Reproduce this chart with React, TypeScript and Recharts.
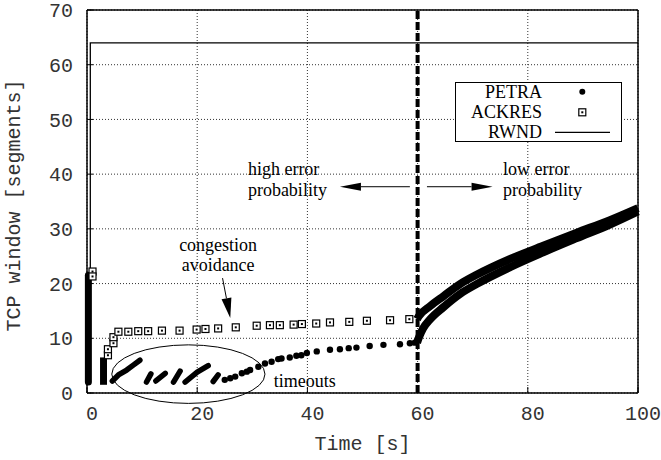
import React from 'react';
import {
  ComposedChart,
  Line,
  Scatter,
  XAxis,
  YAxis,
  CartesianGrid,
  ReferenceLine,
  ReferenceArea,
  ReferenceDot,
  Legend,
} from 'recharts';

// ---------- axes ----------
const xTicks = [0, 20, 40, 60, 80, 100];
const yTicks = [0, 10, 20, 30, 40, 50, 60, 70];

// ---------- RWND (receiver window) ----------
const rwnd = [
  { t: 0.6, w: 2 },
  { t: 0.6, w: 64 },
  { t: 100, w: 64 },
];

// ---------- PETRA ----------
const petraSlowStart = [
  { t: 0.25, w: 2 },
  { t: 0.25, w: 21.5 },
];
const petraSawtooth = [
  { t: 4.6, w: 2.2 }, { t: 5.7, w: 3.3 }, { t: 7.2, w: 4.2 }, { t: 8.4, w: 5.1 }, { t: 9.6, w: 6.0 },
  { t: 9.6, w: null },
  { t: 10.8, w: 2.0 }, { t: 11.6, w: 3.5 },
  { t: 11.6, w: null },
  { t: 12.5, w: 2.2 }, { t: 14.2, w: 3.6 },
  { t: 14.2, w: null },
  { t: 15.7, w: 2.0 }, { t: 16.9, w: 4.0 },
  { t: 16.9, w: null },
  { t: 17.8, w: 2.0 }, { t: 20.0, w: 3.8 }, { t: 22.0, w: 5.0 },
  { t: 22.0, w: null },
  { t: 22.9, w: 2.1 }, { t: 23.8, w: 3.3 },
];
const petraDots = [
  { t: 25.0, w: 2.4 }, { t: 26.0, w: 2.7 }, { t: 26.9, w: 3.0 }, { t: 28.1, w: 3.6 },
  { t: 29.0, w: 3.9 }, { t: 29.6, w: 4.2 }, { t: 31.1, w: 4.8 }, { t: 32.3, w: 5.4 },
  { t: 33.5, w: 5.7 }, { t: 34.7, w: 6.2 }, { t: 35.3, w: 6.3 }, { t: 36.8, w: 6.5 },
  { t: 38.0, w: 6.8 }, { t: 38.9, w: 6.9 }, { t: 39.9, w: 7.3 }, { t: 41.7, w: 7.6 },
  { t: 44.1, w: 7.9 }, { t: 45.9, w: 8.0 }, { t: 47.5, w: 8.2 }, { t: 48.9, w: 8.3 },
  { t: 51.3, w: 8.6 }, { t: 53.8, w: 8.8 }, { t: 56.8, w: 8.9 }, { t: 58.6, w: 9.1 },
  { t: 59.5, w: 9.2 },
];
const petraLowError = [
  { t: 59.9, w: 9.2 }, { t: 60.3, w: 10.3 }, { t: 61.0, w: 11.8 }, { t: 62.3, w: 13.5 },
  { t: 64.7, w: 15.7 }, { t: 67.7, w: 18.1 }, { t: 70.7, w: 19.9 }, { t: 76.8, w: 23.0 },
  { t: 82.8, w: 25.7 }, { t: 88.9, w: 28.3 }, { t: 94.9, w: 30.8 }, { t: 100, w: 33.2 },
];

// ---------- ACKRES ----------
const ackresBurst = [
  { t: 3.0, w: 1.5 },
  { t: 3.0, w: 6.5 },
];
const ackresSquares = [
  { t: 1.0, w: 22.2 }, { t: 1.0, w: 21.3 }, { t: 3.8, w: 6.9 }, { t: 3.8, w: 8.0 },
  { t: 4.8, w: 9.1 }, { t: 4.8, w: 10.2 }, { t: 5.7, w: 11.2 }, { t: 7.5, w: 11.2 },
  { t: 9.3, w: 11.3 }, { t: 11.1, w: 11.3 }, { t: 13.6, w: 11.4 }, { t: 16.8, w: 11.4 },
  { t: 19.9, w: 11.6 }, { t: 21.5, w: 11.7 }, { t: 23.8, w: 11.8 }, { t: 27.0, w: 12.0 },
  { t: 30.8, w: 12.3 }, { t: 33.2, w: 12.4 }, { t: 35.0, w: 12.4 }, { t: 37.5, w: 12.5 },
  { t: 39.0, w: 12.6 }, { t: 41.6, w: 12.7 }, { t: 44.1, w: 12.9 }, { t: 47.6, w: 13.0 },
  { t: 50.8, w: 13.2 }, { t: 55.0, w: 13.3 }, { t: 58.5, w: 13.5 },
];
const ackresLowError = [
  { t: 59.9, w: 13.5 }, { t: 60.2, w: 14.0 }, { t: 62.3, w: 15.9 }, { t: 64.7, w: 17.7 },
  { t: 67.7, w: 19.9 }, { t: 70.7, w: 21.6 }, { t: 76.8, w: 24.5 }, { t: 82.8, w: 26.9 },
  { t: 88.9, w: 29.3 }, { t: 94.9, w: 31.6 }, { t: 100, w: 33.8 },
];

// ---------- annotations ----------
const phaseChange = 60;
const leftArrow = [{ x: 58.6, y: 37.7 }, { x: 45.9, y: 37.7 }];
const rightArrow = [{ x: 61.7, y: 37.7 }, { x: 73.6, y: 37.7 }];
const caArrow = [{ x: 24.6, y: 21.0 }, { x: 26.0, y: 13.7 }];
const timeoutEllipse = { x1: 4.5, x2: 32.3, y1: -1.9, y2: 8.8 };
const notes = [
  { t: 29.2, w: 39.8, lines: ['high error', 'probability'], anchor: 'start' },
  { t: 75.5, w: 39.8, lines: ['low error', 'probability'], anchor: 'start' },
  { t: 23.8, w: 26.0, lines: ['congestion', 'avoidance'], anchor: 'middle' },
  { t: 33.9, w: 1.1, lines: ['timeouts'], anchor: 'start' },
];

const MONO = '"Liberation Mono", "DejaVu Sans Mono", monospace';
const SERIF = '"Liberation Serif", "DejaVu Serif", serif';

const DotShape = (p: any) => <circle cx={p.cx} cy={p.cy} r={3.2} fill="#000" />;
const SquareShape = (p: any) => (
  <g>
    <rect x={p.cx - 3.5} y={p.cy - 3.5} width={7} height={7} fill="#fff" stroke="#000" strokeWidth={1.2} />
    <rect x={p.cx - 1} y={p.cy - 1} width={2} height={2} fill="#000" />
  </g>
);

const makeArrow = (head: number, halfW: number) => (p: any) => {
  const { x1, y1, x2, y2 } = p;
  const dx = x2 - x1;
  const dy = y2 - y1;
  const len = Math.hypot(dx, dy) || 1;
  const ux = dx / len;
  const uy = dy / len;
  const bx = x2 - ux * head;
  const by = y2 - uy * head;
  const px = -uy * halfW;
  const py = ux * halfW;
  return (
    <g>
      <line x1={x1} y1={y1} x2={bx} y2={by} stroke="#000" strokeWidth={1} />
      <polygon points={`${x2},${y2} ${bx + px},${by + py} ${bx - px},${by - py}`} fill="#000" />
    </g>
  );
};

const makeNote = (lines: string[], anchor: string) => (p: any) => (
  <g>
    {lines.map((l, i) => (
      <text
        key={i}
        x={p.cx}
        y={p.cy + i * 20.5}
        fontFamily={SERIF}
        fontSize={18}
        textAnchor={anchor}
        fill="#000"
      >
        {l}
      </text>
    ))}
  </g>
);

const EllipseShape = (p: any) => (
  <ellipse
    cx={p.x + p.width / 2}
    cy={p.y + p.height / 2}
    rx={p.width / 2}
    ry={p.height / 2}
    fill="none"
    stroke="#000"
    strokeWidth={1}
  />
);

const legendItems = ['PETRA', 'ACKRES', 'RWND'];

const renderLegend = () => (
  <div
    style={{
      width: 167,
      height: 60,
      border: '1px solid #000',
      background: '#fff',
      boxSizing: 'border-box',
    }}
  >
    <svg width={165} height={58} style={{ display: 'block' }}>
      {legendItems.map((name, i) => (
        <text
          key={name}
          x={86}
          y={14.7 + i * 20.3}
          textAnchor="end"
          fontFamily={SERIF}
          fontSize={18}
          fill="#000"
        >
          {name}
        </text>
      ))}
      <circle cx={126.3} cy={8.7} r={3} fill="#000" />
      <SquareShape cx={126.3} cy={29.3} />
      <line x1={99} y1={49.3} x2={154} y2={49.3} stroke="#000" strokeWidth={1.3} />
    </svg>
  </div>
);

const axisLine = { stroke: '#000', strokeWidth: 1.5 };
const tickLine = { stroke: '#000', strokeWidth: 1 };
const tickFont = { fontFamily: MONO, fontSize: 20, fill: '#333' };

export default function App() {
  return (
    <div style={{ position: 'absolute', left: 0, top: 0, background: '#fff' }}>
      <ComposedChart width={661} height={460} margin={{ top: 0, right: 0, bottom: 0, left: 0 }}>
        <CartesianGrid stroke="#333" strokeDasharray="1 2" strokeWidth={1} />
        <XAxis
          dataKey="t"
          type="number"
          domain={[0, 100]}
          ticks={xTicks}
          interval={0}
          height={67}
          tickSize={-6}
          tickMargin={19}
          axisLine={axisLine}
          tickLine={tickLine}
          tick={{ ...tickFont, dx: 5 }}
          label={{
            value: 'Time [s]',
            position: 'insideBottom',
            offset: 10,
            fontFamily: MONO,
            fontSize: 20,
            fill: '#333',
          }}
        />
        <XAxis
          xAxisId="top"
          orientation="top"
          type="number"
          domain={[0, 100]}
          ticks={xTicks}
          interval={0}
          height={10}
          tickSize={-6}
          axisLine={axisLine}
          tickLine={tickLine}
          tick={false}
        />
        <YAxis
          type="number"
          domain={[0, 70]}
          ticks={yTicks}
          interval={0}
          width={87}
          tickSize={-6}
          tickMargin={20}
          axisLine={axisLine}
          tickLine={tickLine}
          tick={tickFont}
          label={{
            value: 'TCP window [segments]',
            angle: -90,
            position: 'insideLeft',
            offset: 13,
            dy: 4,
            fontFamily: MONO,
            fontSize: 20,
            fill: '#333',
            style: { textAnchor: 'middle' },
          }}
        />
        <YAxis
          yAxisId="right"
          orientation="right"
          type="number"
          domain={[0, 70]}
          ticks={yTicks}
          interval={0}
          width={23}
          tickSize={-6}
          axisLine={axisLine}
          tickLine={tickLine}
          tick={false}
        />

        <ReferenceLine x={phaseChange} stroke="#000" strokeWidth={4} strokeDasharray="8 3" />

        <Line
          data={rwnd}
          dataKey="w"
          name="RWND"
          stroke="#000"
          strokeWidth={1.3}
          dot={false}
          activeDot={false}
          isAnimationActive={false}
        />
        <Line
          data={ackresBurst}
          dataKey="w"
          stroke="#000"
          strokeWidth={7}
          dot={false}
          activeDot={false}
          legendType="none"
          isAnimationActive={false}
        />
        <Line
          data={ackresLowError}
          dataKey="w"
          type="monotone"
          stroke="#000"
          strokeWidth={8}
          dot={false}
          activeDot={false}
          legendType="none"
          isAnimationActive={false}
        />
        <Scatter
          data={ackresSquares}
          dataKey="w"
          name="ACKRES"
          shape={SquareShape}
          isAnimationActive={false}
        />
        <Line
          data={petraSlowStart}
          dataKey="w"
          stroke="#000"
          strokeWidth={7}
          strokeLinecap="round"
          dot={false}
          activeDot={false}
          legendType="none"
          isAnimationActive={false}
        />
        <Line
          data={petraSawtooth}
          dataKey="w"
          stroke="#000"
          strokeWidth={5.5}
          strokeLinecap="round"
          strokeLinejoin="round"
          dot={false}
          activeDot={false}
          legendType="none"
          isAnimationActive={false}
        />
        <Line
          data={petraLowError}
          dataKey="w"
          type="monotone"
          stroke="#000"
          strokeWidth={8}
          dot={false}
          activeDot={false}
          legendType="none"
          isAnimationActive={false}
        />
        <Scatter data={petraDots} dataKey="w" name="PETRA" shape={DotShape} isAnimationActive={false} />

        <ReferenceArea
          x1={timeoutEllipse.x1}
          x2={timeoutEllipse.x2}
          y1={timeoutEllipse.y1}
          y2={timeoutEllipse.y2}
          ifOverflow="visible"
          shape={EllipseShape}
        />
        <ReferenceLine segment={leftArrow} shape={makeArrow(21, 4)} />
        <ReferenceLine segment={rightArrow} shape={makeArrow(21, 4)} />
        <ReferenceLine segment={caArrow} shape={makeArrow(20, 5)} />
        {notes.map((n) => (
          <ReferenceDot
            key={n.lines[0]}
            x={n.t}
            y={n.w}
            r={1}
            ifOverflow="visible"
            shape={makeNote(n.lines, n.anchor)}
          />
        ))}

        <Legend
          content={renderLegend}
          layout="vertical"
          align="center"
          verticalAlign="middle"
          wrapperStyle={{ left: 455, top: 82, width: 167, height: 60 }}
        />
      </ComposedChart>
    </div>
  );
}
